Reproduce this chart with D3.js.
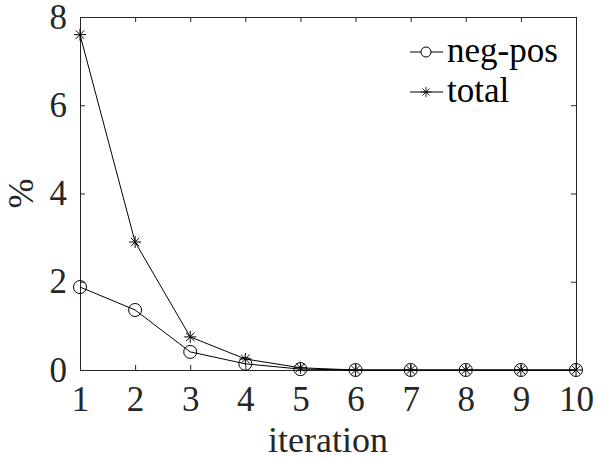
<!DOCTYPE html>
<html>
<head>
<meta charset="utf-8">
<script src="https://cdn.jsdelivr.net/npm/d3@7"></script>
<style>
  body { margin: 0; background: #fff; }
</style>
</head>
<body>
<script>
// data
var iterations = [1, 2, 3, 4, 5, 6, 7, 8, 9, 10];
var negPos = [1.88, 1.36, 0.41, 0.14, 0.02, 0, 0, 0, 0, 0];
var total = [7.6, 2.9, 0.75, 0.25, 0.05, 0, 0, 0, 0, 0];
var yTicks = [0, 2, 4, 6, 8];
var seriesNames = ["neg-pos", "total"];

var margin = {top: 17, right: 34, bottom: 90, left: 80};
var width = 610 - margin.left - margin.right;
var height = 460 - margin.top - margin.bottom;

var xScale = d3.scaleLinear().domain([1, 10]).range([0, width]);
var yScale = d3.scaleLinear().domain([0, 8]).range([height, 0]);

var root = d3.select("body").append("svg")
    .attr("width", 610)
    .attr("height", 460)
    .attr("font-family", "Liberation Serif");

var svg = root.append("g")
    .attr("transform", "translate(" + margin.left + "," + margin.top + ")");

// axes, ticks point inward like matlab
var tickLen = 5;
var xAxis = d3.axisBottom(xScale).tickValues(iterations).tickSizeInner(-tickLen).tickSizeOuter(0).tickPadding(16);
var yAxis = d3.axisLeft(yScale).tickValues(yTicks).tickSizeInner(-tickLen).tickSizeOuter(0).tickPadding(13);
var xTop = d3.axisTop(xScale).tickValues(iterations).tickSizeInner(-tickLen).tickSizeOuter(0).tickFormat("");
var yRight = d3.axisRight(yScale).tickValues(yTicks).tickSizeInner(-tickLen).tickSizeOuter(0).tickFormat("");

function styleAxis(g) {
    g.attr("font-family", "Liberation Serif").attr("font-size", 35);
    g.selectAll("path, line").attr("stroke", "#262626").attr("stroke-width", 1);
    g.selectAll("text").attr("fill", "#262626");
}

svg.append("g").attr("transform", "translate(0," + height + ")").call(xAxis).call(styleAxis);
svg.append("g").call(yAxis).call(styleAxis);
svg.append("g").call(xTop).call(styleAxis);
svg.append("g").attr("transform", "translate(" + width + ",0)").call(yRight).call(styleAxis);

// axis labels
svg.append("text")
    .attr("x", width / 2)
    .attr("y", height + 82)
    .attr("text-anchor", "middle")
    .attr("fill", "#262626")
    .attr("font-family", "Liberation Serif")
    .attr("font-size", 36)
    .text("iteration");

svg.append("text")
    .attr("transform", "rotate(-90)")
    .attr("x", -height / 2)
    .attr("y", -47)
    .attr("text-anchor", "middle")
    .attr("fill", "#262626")
    .attr("font-family", "Liberation Serif")
    .attr("font-size", 36)
    .text("%");

var line = d3.line()
    .x(function(d, i) { return xScale(iterations[i]); })
    .y(function(d) { return yScale(d); });

// lines
[negPos, total].forEach(function(s) {
    svg.append("path")
        .datum(s)
        .attr("d", line)
        .attr("fill", "none")
        .attr("stroke", "#000")
        .attr("stroke-width", 1);
});

// circle markers
svg.selectAll(".circ")
    .data(negPos)
    .enter().append("circle")
    .attr("class", "circ")
    .attr("cx", function(d, i) { return xScale(iterations[i]); })
    .attr("cy", function(d) { return yScale(d); })
    .attr("r", 6.5)
    .attr("fill", "none")
    .attr("stroke", "#000")
    .attr("stroke-width", 1);

// asterisk markers
var starPath = "M-6,0H6M0,-6V6M-4.2,-4.2L4.2,4.2M-4.2,4.2L4.2,-4.2";
svg.selectAll(".star")
    .data(total)
    .enter().append("path")
    .attr("class", "star")
    .attr("transform", function(d, i) { return "translate(" + xScale(iterations[i]) + "," + yScale(d) + ")"; })
    .attr("d", starPath)
    .attr("fill", "none")
    .attr("stroke", "#000")
    .attr("stroke-width", 1);

// legend
var legend = svg.append("g").attr("transform", "translate(330,35)");
seriesNames.forEach(function(name, i) {
    var row = legend.append("g").attr("transform", "translate(0," + (i * 40) + ")");
    row.append("line").attr("x1", 0).attr("x2", 33).attr("y1", 0).attr("y2", 0)
        .attr("stroke", "#000").attr("stroke-width", 1);
    if (i === 0) {
        row.append("circle").attr("cx", 16).attr("cy", 0).attr("r", 5)
            .attr("fill", "#fff").attr("stroke", "#000");
    } else {
        row.append("path").attr("transform", "translate(16,0) scale(0.85)").attr("d", starPath)
            .attr("fill", "none").attr("stroke", "#000");
    }
    row.append("text").attr("x", 37).attr("y", 10).attr("fill", "#000")
        .attr("font-family", "Liberation Serif")
        .attr("font-size", 35)
        .text(name);
});
</script>
</body>
</html>
